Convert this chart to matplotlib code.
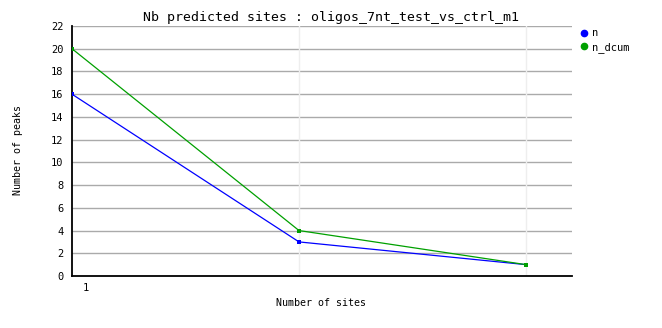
#!/usr/bin/env python3

import matplotlib
matplotlib.use('Agg')
import matplotlib.pyplot as plt
import matplotlib.transforms as mtransforms
from matplotlib.lines import Line2D

# Data
sites = [1, 2, 3]
n_values = [16, 3, 1]
n_dcum_values = [20, 4, 1]
series_names = ['n', 'n_dcum']
series_colors = ['#0000ff', '#00a000']
y_ticks = list(range(0, 23, 2))
x_tick_label = '1'

plt.rcParams['font.family'] = 'DejaVu Sans Mono'

fig = plt.figure(figsize=(6.62, 3.28), dpi=100)
ax = fig.add_axes([72 / 662, 52 / 328, 500 / 662, 250 / 328])

for vals, color in zip([n_values, n_dcum_values], series_colors):
    ax.plot(sites, vals, color=color, linewidth=0.9, marker='s',
            markersize=2.5, markeredgewidth=0, zorder=3)

ax.set_xlim(1, 1 + 500 / 227)
ax.set_ylim(0, 22)

# Grid: gray horizontals, faint verticals at the data points
ax.set_yticks(y_ticks)
for y in y_ticks[1:]:
    ax.axhline(y, color='#aaaaaa', linewidth=1, zorder=1)
for x in sites[1:]:
    ax.axvline(x, color='#eeeeee', linewidth=1, zorder=1)

# single x label "1", drawn a bit right of the first point like the original
ax.set_xticks([])
offset = mtransforms.ScaledTranslation(14 / 100, -12 / 100, fig.dpi_scale_trans)
ax.text(sites[0], 0, x_tick_label, fontsize=7.5, ha='center', va='center',
        transform=ax.get_xaxis_transform() + offset)

ax.tick_params(axis='both', length=0, labelsize=7.5, pad=6)
ax.spines['top'].set_visible(False)
ax.spines['right'].set_visible(False)
ax.spines['left'].set_linewidth(1.3)
ax.spines['bottom'].set_linewidth(1.3)

fig.text(331 / 662, 1 - 17 / 328, 'Nb predicted sites : oligos_7nt_test_vs_ctrl_m1',
         fontsize=9.5, ha='center', va='center')
fig.text(321 / 662, 1 - 303 / 328, 'Number of sites', fontsize=7.2,
         ha='center', va='center')
fig.text(18 / 662, 1 - 150 / 328, 'Number of peaks', fontsize=7.2,
         ha='center', va='center', rotation=90)

handles = [Line2D([], [], color=c, marker='o', linestyle='none', markersize=4.5)
           for c in series_colors]
fig.legend(handles, series_names, loc='upper left',
           bbox_to_anchor=(574 / 662, 1 - 24 / 328), frameon=False,
           fontsize=7.5, handletextpad=0.1, labelspacing=0.35,
           borderaxespad=0, handlelength=1.2)

fig.savefig('out.png', dpi=100)
